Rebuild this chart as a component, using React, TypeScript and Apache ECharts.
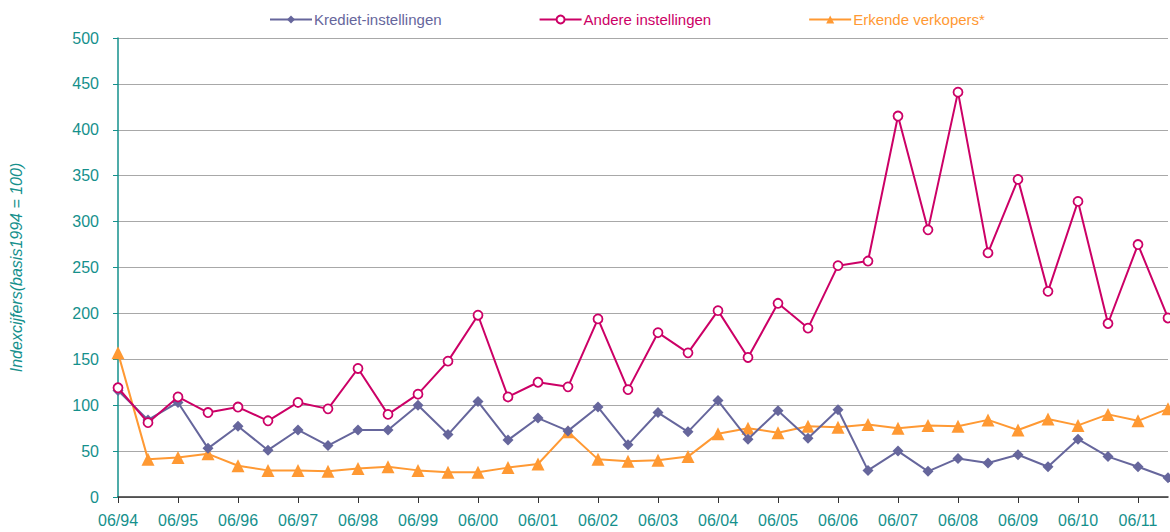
import React, { useEffect, useRef } from "react";
import * as echarts from "echarts";

const categories: string[] = [
  "06/94", "12/94", "06/95", "12/95", "06/96", "12/96", "06/97", "12/97", "06/98", "12/98",
  "06/99", "12/99", "06/00", "12/00", "06/01", "12/01", "06/02", "12/02", "06/03", "12/03",
  "06/04", "12/04", "06/05", "12/05", "06/06", "12/06", "06/07", "12/07", "06/08", "12/08",
  "06/09", "12/09", "06/10", "12/10", "06/11", "12/11",
];

const krediet: number[] = [
  116, 84, 103, 53, 77, 51, 73, 56, 73, 73,
  100, 68, 104, 62, 86, 72, 98, 57, 92, 71,
  105, 63, 94, 64, 95, 29, 50, 28, 42, 37,
  46, 33, 63, 44, 33, 21,
];

const andere: number[] = [
  119, 81, 109, 92, 98, 83, 103, 96, 140, 90,
  112, 148, 198, 109, 125, 120, 194, 117, 179, 157,
  203, 152, 211, 184, 252, 257, 415, 291, 441, 266,
  346, 224, 322, 189, 275, 195,
];

const erkende: number[] = [
  157, 41, 43, 47, 34, 29, 29, 28, 31, 33,
  29, 27, 27, 32, 36, 71, 41, 39, 40, 44,
  69, 75, 70, 77, 76, 79, 75, 78, 77, 84,
  73, 85, 78, 90, 83, 96,
];

const yTicks = { min: 0, max: 500, interval: 50 };

const TEAL = "#15908c";
const PURPLE = "#66669c";
const CRIMSON = "#cc0066";
const ORANGE = "#ff9933";
const FONT = "Liberation Sans, Arial, sans-serif";

export default function App() {
  const ref = useRef<HTMLDivElement>(null);
  useEffect(() => {
    if (!ref.current) return;
    const chart = echarts.init(ref.current, null, { renderer: "svg" });
    chart.setOption({
      animation: false,
      backgroundColor: "#ffffff",
      textStyle: { fontFamily: FONT },
      legend: {
        top: 7,
        left: 264,
        itemWidth: 42,
        itemHeight: 10,
        itemGap: 97,
        textStyle: { fontSize: 15, fontFamily: FONT, padding: [0, 0, 0, -3] },
        data: [
          { name: "Krediet-instellingen", textStyle: { color: PURPLE } },
          { name: "Andere instellingen", textStyle: { color: CRIMSON } },
          { name: "Erkende verkopers*", textStyle: { color: ORANGE } },
        ],
      },
      grid: { left: 118, right: 2, top: 38, bottom: 35, containLabel: false },
      xAxis: {
        type: "category",
        data: categories,
        boundaryGap: false,
        axisLine: { lineStyle: { color: "#333333", width: 1.5 } },
        axisTick: { interval: 1, length: 6, lineStyle: { color: "#333333" } },
        axisLabel: {
          interval: 1,
          color: TEAL,
          fontSize: 16,
          fontFamily: FONT,
          margin: 15,
        },
        splitLine: { show: false },
      },
      yAxis: {
        type: "value",
        min: yTicks.min,
        max: yTicks.max,
        interval: yTicks.interval,
        name: "Indexcijfers(basis1994 = 100)",
        nameLocation: "middle",
        nameGap: 94,
        nameTextStyle: { color: TEAL, fontSize: 16, fontStyle: "italic", fontFamily: FONT },
        axisLine: { show: true, lineStyle: { color: TEAL, width: 1.5 } },
        axisTick: { show: true, length: 5, lineStyle: { color: TEAL } },
        axisLabel: { color: TEAL, fontSize: 16, fontFamily: FONT, margin: 19 },
        splitLine: { lineStyle: { color: "#a8a8a8", width: 1.2 } },
      },
      series: [
        {
          name: "Krediet-instellingen",
          type: "line",
          data: krediet,
          color: PURPLE,
          symbol: "diamond",
          symbolSize: 11,
          lineStyle: { width: 2, color: PURPLE },
          itemStyle: { color: PURPLE },
          z: 3,
        },
        {
          name: "Andere instellingen",
          type: "line",
          data: andere,
          color: CRIMSON,
          symbol: "circle",
          symbolSize: 9,
          lineStyle: { width: 2, color: CRIMSON },
          itemStyle: { color: "#ffffff", borderColor: CRIMSON, borderWidth: 1.8 },
          z: 4,
        },
        {
          name: "Erkende verkopers*",
          type: "line",
          data: erkende,
          color: ORANGE,
          symbol: "triangle",
          symbolSize: 13,
          lineStyle: { width: 2, color: ORANGE },
          itemStyle: { color: ORANGE },
          z: 2,
        },
      ],
    });
    return () => chart.dispose();
  }, []);
  return (
    <div
      ref={ref}
      style={{ position: "fixed", left: 0, top: 0, width: 1170, height: 532 }}
    />
  );
}
